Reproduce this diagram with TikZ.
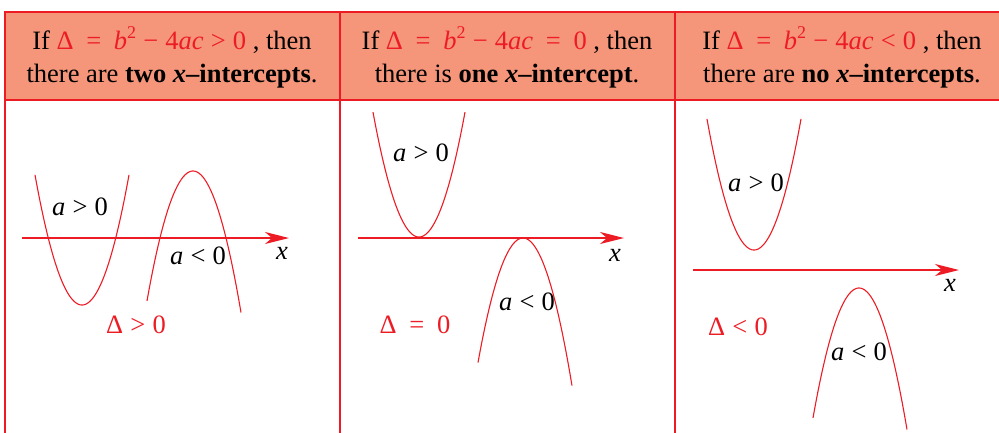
\documentclass[tikz,border=0pt]{standalone}
\usepackage{fontspec}
\setmainfont{Liberation Serif}
\usetikzlibrary{arrows.meta}
\definecolor{myred}{RGB}{237,28,36}
\definecolor{hdr}{RGB}{245,150,122}
\newcommand\mrel[1]{\hspace{0.27em}#1\hspace{0.27em}}
\newcommand\lrel[1]{\hspace{0.27em}#1\hspace{0.27em}}
\newcommand\meq{\hspace{0.48em}=\hspace{0.48em}}
\newcommand\mi[1]{\textit{#1}}
\newcommand\sqr{\raisebox{0.42em}{\fontsize{18}{18}\selectfont 2}}
\tikzset{
  frame/.style={draw=myred, line width=1.3pt},
  hdrtext/.style={align=center, inner sep=0pt, font=\fontsize{26.5}{33}\selectfont},
  lbl/.style={inner sep=0pt, font=\fontsize{26.5}{30}\selectfont},
  dlbl/.style={lbl, text=myred},
  curve/.style={draw=myred, line width=1.1pt},
  axis/.style={draw=myred, line width=1.5pt, -{Stealth[length=24pt,width=12pt,inset=7pt]}},
}
\begin{document}
\begin{tikzpicture}[x=1pt,y=-1pt]
\useasboundingbox (0,0) rectangle (999,432);
% table
\fill[hdr] (5,12) rectangle (1010,100);
\draw[frame] (1010,12) -- (5,12) -- (5,440);
\draw[frame] (5,100) -- (1010,100);
\draw[frame] (340,12) -- (340,440);
\draw[frame] (675,12) -- (675,440);
% headers
\node[hdrtext] (h1) at (172,57) {If \textcolor{myred}{Δ\meq\mi{b}\sqr\mrel{−}4\mi{ac}\mrel{>}0} , then\\there are \textbf{two \textit{x}–intercepts}.};
\node[hdrtext] (h2) at (507,57) {If \textcolor{myred}{Δ\meq\mi{b}\sqr\mrel{−}4\mi{ac}\meq0} , then\\there is \textbf{one \textit{x}–intercept}.};
\node[hdrtext] (h3) at (842,57) {If \textcolor{myred}{Δ\meq\mi{b}\sqr\mrel{−}4\mi{ac}\mrel{<}0} , then\\there are \textbf{no \textit{x}–intercepts}.};
% panel 1
\coordinate (a1s) at (22,238); \coordinate (a1e) at (289,238);
\draw[axis] (a1s) -- (a1e);
\node[lbl] (x1) at (282,253) {\mi{x}};
\draw[curve] plot[domain=-47:47,samples=80] ({82+\x},{305-0.0589*\x*\x});
\draw[curve] plot[domain=-46:48,samples=80] ({193+\x},{171+0.0614*\x*\x});
\node[lbl] (p1a) at (80,207) {\mi{a}\lrel{>}0};
\node[lbl] (p1b) at (198,256) {\mi{a}\lrel{<}0};
\node[dlbl] (d1) at (136,325) {Δ\lrel{>}0};
% panel 2
\coordinate (a2s) at (358,238); \coordinate (a2e) at (624,238);
\draw[axis] (a2s) -- (a2e);
\node[lbl] (x2) at (615,255) {\mi{x}};
\draw[curve] plot[domain=-46:46,samples=80] ({419+\x},{237-0.059*\x*\x});
\draw[curve] plot[domain=-45:49,samples=80] ({523+\x},{238+0.0615*\x*\x});
\node[lbl] (p2a) at (421,153) {\mi{a}\lrel{>}0};
\node[lbl] (p2b) at (527,302) {\mi{a}\lrel{<}0};
\node[dlbl] (d2) at (415,325) {Δ\meq0};
% panel 3
\coordinate (a3s) at (693,270); \coordinate (a3e) at (959,270);
\draw[axis] (a3s) -- (a3e);
\node[lbl] (x3) at (950,285) {\mi{x}};
\draw[curve] plot[domain=-47:47,samples=80] ({754+\x},{250-0.0593*\x*\x});
\draw[curve] plot[domain=-46:48,samples=80] ({859+\x},{288+0.0614*\x*\x});
\node[lbl] (p3a) at (756,183) {\mi{a}\lrel{>}0};
\node[lbl] (p3b) at (859,352) {\mi{a}\lrel{<}0};
\node[dlbl] (d3) at (738,327) {Δ\lrel{<}0};
\end{tikzpicture}
\end{document}
